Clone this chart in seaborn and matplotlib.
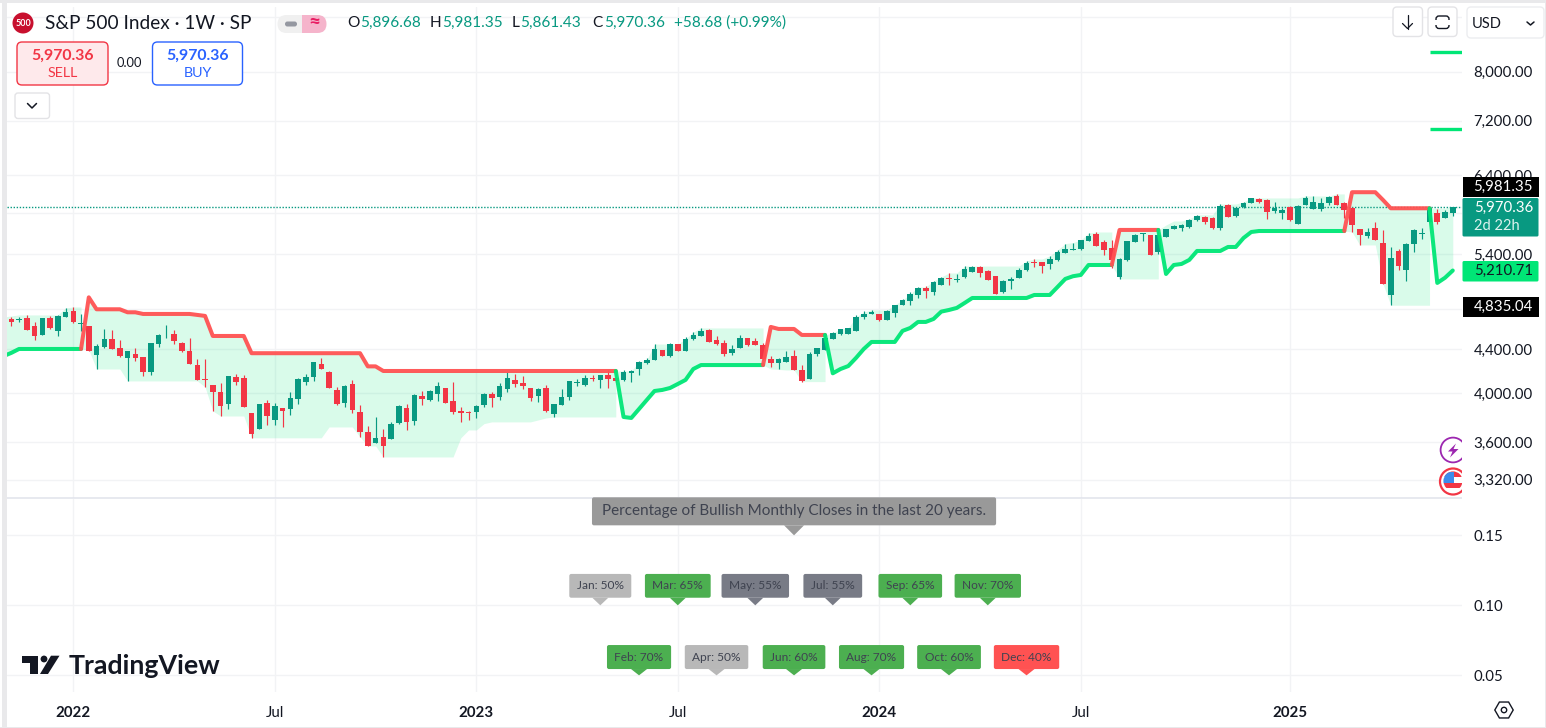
import numpy as np
import pandas as pd
import matplotlib
matplotlib.use('Agg')
import matplotlib.pyplot as plt
from matplotlib.patches import Rectangle, FancyBboxPatch, Polygon, Circle, RegularPolygon
from matplotlib.ticker import NullLocator
import seaborn as sns

# weekly candles, first one is the week of 2021-11-08
opens = [4695,4688,4705,4625,4535,4705,4574,4715,4776,4645,4625,4344,4419,4497,4410,4316,4353,4325,4188,4448,
         4542,4545,4458,4381,4251,4125,4072,4012,3909,4143,4134,3833,3703,3917,3776,3875,3867,3951,4099,4143,
         4260,4188,4029,3917,4081,3842,3679,3594,3641,3625,3751,3875,3767,3977,3943,3994,4046,3934,3850,3844,
         3842,3901,3994,3968,4038,4116,4090,4046,3977,4046,3825,3901,3968,4090,4072,4137,4116,4161,4134,4116,
         4182,4215,4269,4297,4391,4335,4448,4381,4497,4526,4584,4487,4458,4363,4410,4506,4477,4438,4306,4269,
         4278,4335,4206,4125,4353,4391,4497,4545,4545,4574,4715,4745,4745,4685,4755,4839,4880,4943,5019,4976,
         5052,5128,5106,5140,5196,5251,5207,5151,4976,5095,5128,5218,5308,5308,5285,5331,5412,5447,5459,5554,
         5639,5542,5470,5140,5331,5542,5639,5627,5424,5603,5699,5712,5724,5812,5849,5837,5712,6002,5862,5977,
         6028,6080,6067,5925,5899,5977,5762,6002,5951,5951,6028,6119,6028,5964,5699,5615,5712,5530,4944,5436,
         5218,5518,5635,5787,5899,5837,5896.68]
highs = [4715,4718,4735,4665,4705,4725,4735,4807,4817,4745,4625,4448,4594,4584,4487,4381,4410,4325,4458,4545,
         4634,4584,4467,4506,4303,4303,4072,4090,4152,4170,4161,3833,3909,3943,3917,3875,4012,4134,4170,4278,
         4316,4197,4055,4072,4116,3901,3727,3800,3703,3759,3901,3909,3994,4021,4029,4099,4046,4099,3884,3850,
         3901,4003,4012,4090,4188,4170,4152,4046,4046,4072,3909,4038,4107,4125,4161,4161,4161,4206,4188,4206,
         4206,4288,4316,4448,4391,4458,4448,4516,4564,4604,4594,4526,4487,4438,4535,4506,4506,4458,4335,4316,
         4381,4391,4251,4372,4410,4545,4564,4594,4604,4735,4776,4786,4745,4786,4839,4901,4976,5030,5041,5095,
         5140,5184,5173,5263,5263,5263,5218,5151,5106,5140,5240,5320,5343,5308,5378,5447,5518,5530,5566,5651,
         5663,5566,5566,5354,5554,5639,5651,5627,5712,5699,5749,5762,5824,5874,5862,5849,6015,6015,5964,6041,
         6093,6093,6080,6041,5964,5990,6002,6119,6119,6093,6119,6145,6041,5977,5699,5712,5787,5687,5482,5459,
         5530,5699,5712,5964,5951,5938,5981.35]
lows = [4628,4668,4584,4487,4535,4594,4526,4715,4655,4574,4381,4215,4410,4400,4325,4107,4288,4152,4161,4419,
        4506,4448,4372,4260,4116,4055,3850,3808,3867,4072,3884,3633,3703,3736,3736,3719,3816,3909,4072,4107,
        4215,4046,3901,3884,3833,3641,3570,3594,3487,3625,3744,3695,3736,3901,3934,3934,3917,3825,3759,3776,
        3792,3884,3884,3943,4012,4055,4038,3934,3926,3842,3800,3901,3943,4063,4063,4107,4046,4046,4099,4107,
        4099,4161,4260,4297,4335,4325,4381,4381,4487,4526,4467,4438,4335,4344,4410,4428,4438,4297,4233,4215,
        4278,4206,4099,4125,4335,4391,4497,4535,4545,4574,4695,4745,4675,4685,4715,4839,4839,4912,4912,4944,
        5052,5052,5084,5128,5196,5140,5106,4954,4965,5009,5128,5207,5251,5184,5229,5320,5412,5447,5447,5554,
        5494,5389,5240,5117,5320,5542,5554,5389,5401,5603,5699,5675,5712,5799,5762,5699,5687,5849,5849,5964,
        6028,6028,5824,5899,5824,5799,5762,6002,5951,5925,6002,6002,5837,5663,5506,5590,5566,5063,4835,5218,
        5095,5424,5578,5787,5762,5837,5861.43]
closes = [4668,4695,4584,4526,4705,4604,4725,4766,4665,4655,4381,4428,4497,4400,4335,4381,4316,4188,4458,4535,
          4548,4477,4381,4260,4116,4119,4012,3892,4152,4099,3884,3664,3909,3808,3892,3850,3960,4125,4143,4278,
          4215,4046,3909,4063,3858,3679,3570,3633,3570,3744,3892,3759,3985,3951,4021,4063,3917,3842,3836,3836,
          3892,3994,3960,4063,4134,4081,4063,3960,4038,3850,3909,3968,4107,4099,4134,4128,4161,4125,4107,4188,
          4197,4278,4297,4400,4335,4448,4381,4497,4535,4574,4467,4448,4353,4400,4506,4438,4438,4306,4269,4306,
          4325,4206,4107,4353,4410,4506,4554,4594,4604,4715,4745,4766,4685,4776,4839,4891,4954,5019,4987,5084,
          5128,5117,5117,5229,5251,5184,5106,4954,5095,5117,5218,5296,5292,5263,5343,5424,5459,5459,5566,5615,
          5494,5447,5331,5343,5554,5627,5647,5389,5627,5699,5737,5749,5812,5862,5787,5712,5990,5849,5964,6028,
          6093,6041,5912,5964,5938,5812,5990,6093,6041,6028,6106,6002,5938,5749,5627,5663,5566,5063,5354,5263,
          5518,5687,5647,5964,5787,5912,5970.36]

# trend line and the far edge of the shaded band, weeks -1 to 186
trend = [4333,4363] + [4400]*9 + [4918] + [4793]*4 + [4762]*2 + [4745]*7 + [4735,4725] + [4525]*5 + [4360]*15 \
    + [4238]*2 + [4196]*31 + [3800,3792,3866,3942,4019,4028,4045,4080,4116,4214] + [4250]*9 \
    + [4614] + [4594]*3 + [4535]*4 + [4175,4214,4241,4316,4400] + [4467]*4 + [4575,4604,4664,4664,4694,4769,4786,4807,4858] \
    + [4911]*8 + [4943]*3 + [5029,5117,5147,5161] + [5273]*4 + [5687]*6 + [5172,5273,5285,5331] + [5435]*4 + [5482]*2 \
    + [5589,5662] + [5674]*12 + [6169]*4 + [6066] + [5959]*6 + [5073,5130,5210.71]
band = [4714,4725] + [4735]*6 + [4807,4817,4817] + [4391] + [4214]*4 + [4107]*10 + [4054,3850] + [3808]*4 + [3633]*10 \
    + [3719]*4 + [3640] + [3570]*2 + [3486]*10 + [3633] + [3695]*2 + [3746] + [3760]*6 + [3776,3792] + [3800]*9 \
    + [4196]*2 + [4279,4297] + [4447]*4 + [4496,4564] + [4604]*9 + [4214,4210,4205,4205] + [4101]*4 \
    + [4555,4594,4604,4714,4765] + [4786]*3 + [4839,4890,4954,5029,5029,5095,5139,5183,5183] + [5261]*8 \
    + [5319,5342,5342,5377,5447,5522,5534,5565,5649] + [5662]*3 + [5117]*6 + [5748,5798,5798,5824] + [5875]*3 \
    + [6014]*3 + [6040] + [6093]*7 + [6119]*4 + [6146]*2 + [5662] + [5506]*3 + [5062] + [4835]*6 + [5960,5960,5981.35]
flip_weeks = [10, 79, 98, 106, 143, 149, 173, 184]

target_levels = [8346, 7065]
target_weeks = [183, 188.1]

grid_prices = [9000, 8000, 7200, 6400, 5900, 5400, 4800, 4400, 4000, 3600, 3320]
shown_prices = [8000, 7200, 6400, 5400, 4400, 4000, 3600, 3320]
time_weeks = [8, 34, 60, 86, 112, 138, 165]
time_labels = ['2022', 'Jul', '2023', 'Jul', '2024', 'Jul', '2025']

months = ['Jan', 'Feb', 'Mar', 'Apr', 'May', 'Jun', 'Jul', 'Aug', 'Sep', 'Oct', 'Nov', 'Dec']
bullish_pct = [50, 70, 65, 50, 55, 60, 55, 70, 65, 60, 70, 40]
month_weeks = [76, 81, 86, 91, 96, 101, 106, 111, 116, 121, 126, 131]
month_levels = [0.10, 0.05] * 6
note_text = 'Percentage of Bullish Monthly Closes in the last 20 years.'
note_week = 101
note_level = 0.15

UP = '#089981'
DOWN = '#F23645'
LINE_UP = '#00E676'
LINE_DOWN = '#FF5252'
GRID = '#F2F3F5'
INK = '#131722'
FONT = 'Lato'
AXIS_SIZE = 10.8

sns.set_theme(style='white')
plt.rcParams['font.family'] = FONT
W, H = 1546, 728
fig = plt.figure(figsize=(W / 100, H / 100), dpi=100, facecolor='white')


def pane(left, top, right, bottom):
    return fig.add_axes([left / W, 1 - bottom / H, (right - left) / W, (bottom - top) / H])


# price pane
ax = pane(7, 7, 1462, 498)
ax.set_yscale('log')
ax.set_xlim(-0.555, 187.19)
ax.set_ylim(3191, 9196)

week = np.arange(len(closes))
o, h, l, c = map(np.array, (opens, highs, lows, closes))
up = c >= o
trend_week = np.arange(-1, len(closes))
trend = np.array(trend, dtype=float)
band = np.array(band, dtype=float)

starts = [-1] + flip_weeks
ends = flip_weeks + [int(week[-1]) + 1]

# band between the trend line and the far edge, restarted at every flip
for s, e in zip(starts, ends):
    i0 = max(s, 0)
    edge_vals = band[i0:e + 1].copy()
    if s != -1:
        edge_vals[0] = trend[i0]
    ax.fill_between(trend_week[i0:e + 1], trend[i0:e + 1], edge_vals, color=LINE_UP, alpha=0.15, lw=0, zorder=1)

ax.vlines(week[up], l[up], h[up], color=UP, lw=0.85, zorder=3)
ax.vlines(week[~up], l[~up], h[~up], color=DOWN, lw=0.85, zorder=3)
ax.bar(week[up], (c - o)[up], bottom=o[up], width=0.72, color=UP, lw=0, zorder=3)
ax.bar(week[~up], (o - c)[~up], bottom=c[~up], width=0.72, color=DOWN, lw=0, zorder=3)

ax.axhline(closes[-1], color=UP, lw=1.0, ls=(0, (1, 1.2)), zorder=2)

for n, (s, e) in enumerate(zip(starts, ends)):
    i0 = max(s, 0)
    seg = pd.DataFrame({'week': trend_week[i0:e + 1], 'price': trend[i0:e + 1]})
    sns.lineplot(data=seg, x='week', y='price', color=LINE_UP if n % 2 == 0 else LINE_DOWN, lw=2.9,
                 estimator=None, errorbar=None, ax=ax, zorder=4, alpha=0.95)

for lev in target_levels:
    seg = pd.DataFrame({'week': target_weeks, 'price': [lev, lev]})
    sns.lineplot(data=seg, x='week', y='price', color=LINE_UP, lw=2.4, estimator=None, errorbar=None,
                 ax=ax, zorder=4, solid_capstyle='butt')

ax.yaxis.tick_right()
ax.set_yticks(grid_prices)
ax.set_yticklabels([f'{p:,.2f}' if p in shown_prices else '' for p in grid_prices], fontsize=AXIS_SIZE, color=INK)
ax.yaxis.set_minor_locator(NullLocator())
ax.set_xticks(time_weeks)
ax.tick_params(axis='both', which='both', length=0, pad=8.2)
ax.tick_params(axis='x', labelbottom=False)
ax.grid(True, color=GRID, lw=1.0, zorder=0)
ax.set_axisbelow(True)
ax.set_xlabel('')
ax.set_ylabel('')
for sp in ax.spines.values():
    sp.set_visible(False)

# seasonality pane
ax2 = pane(7, 498.5, 1462, 692)
ax2.set_xlim(ax.get_xlim())
ax2.set_ylim(0.0381, 0.1763)
ax2.yaxis.tick_right()
ax2.set_yticks([0.05, 0.10, 0.15])
ax2.set_yticklabels(['0.05', '0.10', '0.15'], fontsize=AXIS_SIZE, color=INK)
ax2.set_xticks(time_weeks)
ax2.set_xticklabels(time_labels, fontsize=AXIS_SIZE, color=INK)
for lab, name in zip(ax2.get_xticklabels(), time_labels):
    if name != 'Jul':
        lab.set_fontweight('bold')
ax2.tick_params(axis='both', length=0, pad=8.2)
ax2.tick_params(axis='x', pad=10)
ax2.grid(True, color=GRID, lw=1.0)
ax2.set_axisbelow(True)
for sp in ax2.spines.values():
    sp.set_visible(False)

# everything else is screen furniture, drawn in pixel coordinates
ov = fig.add_axes([0, 0, 1, 1], zorder=5)
ov.set_xlim(0, W)
ov.set_ylim(H, 0)
ov.axis('off')
renderer = fig.canvas.get_renderer()


def box(x0, y0, x1, y1, fc, ec='none', r=3, lw=1.0, z=6):
    p = FancyBboxPatch((x0 + r, y0 + r), x1 - x0 - 2 * r, y1 - y0 - 2 * r, boxstyle=f'round,pad={r},rounding_size={r}',
                       fc=fc, ec=ec, lw=lw, zorder=z)
    ov.add_patch(p)
    return p


def txt(x, y, s, color=INK, size=AXIS_SIZE, ha='left', weight='normal', z=8):
    return ov.text(x, y, s, color=color, fontsize=size, ha=ha, va='center', fontweight=weight, zorder=z)


def flag(bar, level, text, color, size, height, gap, tip, pad):
    d = ax2.transData.transform((bar, level))
    tx, ty = d[0], H - d[1]
    y1 = ty - gap
    y0 = y1 - height
    t = txt(tx, (y0 + y1) / 2, text, color='#3F4350', size=size, ha='center')
    w = t.get_window_extent(renderer).width + 2 * pad
    box(tx - w / 2, y0, tx + w / 2, y1, color, r=2)
    ov.add_patch(Polygon([(tx - tip, y1), (tx + tip, y1), (tx, ty)], fc=color, ec='none', zorder=6))


def month_color(p):
    if p >= 60:
        return '#4CAF50'
    if p == 55:
        return '#787B86'
    if p == 50:
        return '#B8B8B8'
    return '#FF5252'


for m, p, wk, lev in zip(months, bullish_pct, month_weeks, month_levels):
    flag(wk, lev, f'{m}: {p}%', month_color(p), 8.6, 23.8 if lev == 0.10 else 24, 7.6 if lev == 0.10 else 6.3, 8, 7.5)
flag(note_week, note_level, note_text, '#999999', 11.0, 28, 10, 10, 10)

# page edges
ov.add_patch(Rectangle((0, 0), W, 3, fc='#E9E9EB', ec='none', zorder=2))
ov.add_patch(Rectangle((2, 0), 4.7, H, fc='#E9E9EB', ec='none', zorder=2))
ov.add_patch(Rectangle((1545, 0), 1, H, fc='#E9E9EB', ec='none', zorder=2))
ov.add_patch(Rectangle((0, 727), W, 1, fc='#E9E9EB', ec='none', zorder=2))
ov.plot([7, 1462], [498, 498], color='#E0E3EB', lw=1.1, zorder=3, solid_capstyle='butt')

# header
ov.add_patch(Circle((23, 23), 10.5, fc='#C8102E', ec='none', zorder=6))
txt(23, 23, '500', color='white', size=6.5, ha='center', weight='bold')
txt(45, 23.5, 'S&P 500 Index · 1W · SP', size=13.7)
box(277.5, 15, 312, 33, '#F0F0F0', r=9, z=6)
right = box(292, 15, 326.5, 33, '#F5B4CB', r=9, z=6.5)
right.set_clip_path(Rectangle((302, 10), 30, 30, transform=ov.transData))
box(285, 21.5, 297, 26.5, '#9598A1', r=2.4, z=7)
txt(314, 22.5, '≈', color='#E91E63', size=15, ha='center', weight='bold')
ohlc = [(347, 'O', INK), (360, '5,896.68', UP), (430, 'H', INK), (442, '5,981.35', UP), (512, 'L', INK), (520, '5,861.43', UP),
        (592, 'C', INK), (604, '5,970.36', UP), (674.5, '+58.68 (+0.99%)', UP)]
for x, s, col in ohlc:
    txt(x, 23, s, color=col, size=11.1)

box(17, 42, 108, 85, '#FEE9EB', ec=DOWN, r=5)
txt(62.5, 56, '5,970.36', color=DOWN, size=11.4, ha='center', weight='bold')
txt(62.5, 73, 'SELL', color=DOWN, size=10.3, ha='center')
txt(129.5, 63, '0.00', size=9.3, ha='center')
box(152.5, 42, 242.5, 85, 'white', ec='#2962FF', r=5)
txt(197.5, 56, '5,970.36', color='#2962FF', size=11.4, ha='center', weight='bold')
txt(197.5, 73, 'BUY', color='#2962FF', size=10.3, ha='center')

box(15, 93, 49.5, 118.5, 'white', ec='#E3E3E6', r=3)
ov.plot([27.5, 32, 36.5], [103.5, 108, 103.5], color=INK, lw=1.1, zorder=8)

box(1393, 7, 1422.5, 36.5, 'white', ec='#E3E3E6', r=4)
ov.plot([1407.5, 1407.5], [15, 28.5], color=INK, lw=0.9, zorder=8)
ov.plot([1402.5, 1407.5, 1412.5], [23.5, 28.5, 23.5], color=INK, lw=0.9, zorder=8)
box(1428, 7, 1457, 36.5, 'white', ec='#E3E3E6', r=4)
box(1436, 16, 1449, 28.5, 'white', ec=INK, r=3, z=7)
ov.add_patch(Rectangle((1433, 20), 20, 4.5, fc='white', ec='none', zorder=7.5))
box(1467, 7, 1544, 38, 'white', ec='#ECEDF0', r=4)
txt(1472, 24, 'USD', size=10.5)
ov.plot([1527, 1530.5, 1534], [22, 25, 22], color=INK, lw=1.1, zorder=8)

# price labels on the right edge
ov.add_patch(Rectangle((1462.5, 176.5), 76, 20, fc='black', ec='none', zorder=7))
txt(1533, 186.5, '5,981.35', color='white', ha='right')
box(1462.5, 198, 1538.5, 236.5, UP, r=1.5, z=7)
txt(1533, 208, '5,970.36', color='white', ha='right')
txt(1474, 226, '2d 22h', color='#DDF3EF', size=10.5)
box(1462.5, 261, 1538.5, 281.5, LINE_UP, r=1.5, z=7)
txt(1533, 271, '5,210.71', color=INK, ha='right')
ov.add_patch(Rectangle((1462.5, 296.5), 76, 20, fc='black', ec='none', zorder=7))
txt(1533, 306.5, '4,835.04', color='white', ha='right')

# event icons, cut off by the price scale
edge = Rectangle((1430, 430), 32, 70, transform=ov.transData)
ring = Circle((1453, 450), 12.4, fc='white', ec='#9C27B0', lw=1.3, zorder=6)
ov.add_patch(ring)
ring.set_clip_path(edge)
ov.add_patch(Polygon([(1456, 443.5), (1448, 451.5), (1452.5, 451.5), (1450, 457.5), (1458.5, 449), (1453.5, 449)],
                     fc='#9C27B0', ec='none', zorder=7))
ring2 = Circle((1453, 481.5), 13, fc='white', ec='#F23645', lw=1.6, zorder=6)
ov.add_patch(ring2)
ring2.set_clip_path(edge)
disc = Circle((1453, 481), 9.6, transform=ov.transData)
for y0, hh, col in [(471, 5.5, '#F23645'), (476.5, 6.5, 'white'), (483, 5, '#F23645'), (488, 3, 'white')]:
    st = Rectangle((1442, y0), 20, hh, fc=col, ec='none', zorder=7)
    ov.add_patch(st)
    st.set_clip_path(disc)
st = Rectangle((1443.3, 471.5), 10.7, 11.5, fc='#3D8BEB', ec='none', zorder=7.5)
ov.add_patch(st)
st.set_clip_path(disc)
ov.add_patch(Rectangle((1462, 465), 10, 32, fc='white', ec='none', zorder=7.8))

# logo
ov.add_patch(Polygon([(22, 655.7), (38, 655.7), (38, 674), (30, 674), (30, 662.5), (22, 662.5)], fc=INK, ec='none', zorder=8))
ov.add_patch(Circle((44, 659), 3.4, fc=INK, ec='none', zorder=8))
ov.add_patch(Polygon([(51, 655.7), (59.5, 655.7), (48, 674), (40, 674)], fc=INK, ec='none', zorder=8))
txt(68.5, 666, 'TradingView', size=19.3, weight='bold')

# settings cog
ov.add_patch(RegularPolygon((1504, 710), 6, radius=9.2, orientation=np.pi / 6, fc='white', ec=INK, lw=1.0, zorder=8))
ov.add_patch(Circle((1504, 710), 2.7, fc='white', ec=INK, lw=1.0, zorder=9))

fig.savefig('out.png', dpi=100)
